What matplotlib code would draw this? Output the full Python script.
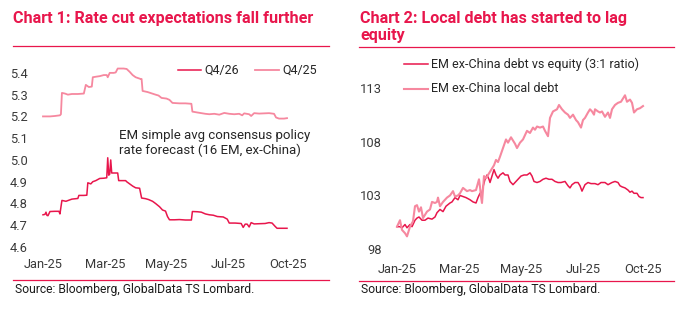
import matplotlib
matplotlib.use("Agg")
import matplotlib.pyplot as plt
from matplotlib.lines import Line2D

plt.rcParams['font.family'] = ['Roboto', 'DejaVu Sans']

RED = '#E8164C'
PINK = '#F6889F'
TXT = '#262626'

# ---------------- Chart 1 data (x = trading-day offset from start) ----------------
c1_q425_x = [0, 7, 12, 17, 18, 19, 22, 25, 29, 35, 41, 43, 46, 49, 50, 54, 57, 61, 64, 65,
             67, 71, 73, 75, 81, 84, 87, 90, 93, 98, 99, 100, 105, 109, 113, 116, 119, 124,
             127, 130, 137, 143, 149, 150, 155, 159, 163, 167, 172, 177, 182, 187, 192, 197,
             200, 202, 207, 209, 212, 217, 222, 227, 232, 234, 237, 242, 245]
c1_q425_y = [5.200, 5.200, 5.202, 5.205, 5.210, 5.308, 5.305, 5.300, 5.303, 5.303, 5.305,
             5.345, 5.335, 5.337, 5.380, 5.383, 5.385, 5.390, 5.390, 5.380, 5.400, 5.400,
             5.402, 5.420, 5.420, 5.418, 5.405, 5.390, 5.380, 5.372, 5.372, 5.317, 5.312,
             5.306, 5.300, 5.296, 5.285, 5.282, 5.276, 5.262, 5.260, 5.260, 5.258, 5.222,
             5.218, 5.215, 5.212, 5.210, 5.212, 5.208, 5.216, 5.212, 5.210, 5.212, 5.205,
             5.214, 5.210, 5.202, 5.215, 5.213, 5.214, 5.215, 5.212, 5.195, 5.190, 5.190,
             5.192]

c1_q426_x = [0, 2, 3, 4, 5, 7, 12, 16, 17, 19, 23, 26, 29, 33, 35, 36, 41, 44, 45, 48, 50,
             53, 57, 61, 64, 65, 66, 67, 68, 69, 75, 76, 83, 84, 87, 90, 93, 97, 99, 103,
             106, 110, 113, 117, 120, 123, 125, 127, 132, 137, 143, 149, 150, 155, 159, 163,
             167, 171, 175, 181, 185, 187, 193, 199, 201, 203, 205, 207, 209, 212, 217, 223,
             227, 230, 233, 235, 240, 245]
c1_q426_y = [4.748, 4.750, 4.760, 4.745, 4.744, 4.763, 4.764, 4.764, 4.752, 4.814, 4.810,
             4.815, 4.820, 4.822, 4.823, 4.837, 4.837, 4.838, 4.895, 4.890, 4.900, 4.905,
             4.915, 4.916, 4.918, 5.010, 4.930, 4.935, 5.000, 4.940, 4.940, 4.905, 4.905,
             4.900, 4.890, 4.880, 4.872, 4.870, 4.825, 4.822, 4.818, 4.810, 4.800, 4.785,
             4.770, 4.765, 4.740, 4.725, 4.725, 4.726, 4.724, 4.724, 4.763, 4.762, 4.760,
             4.752, 4.748, 4.746, 4.740, 4.738, 4.728, 4.710, 4.710, 4.708, 4.690, 4.705,
             4.705, 4.692, 4.712, 4.706, 4.707, 4.708, 4.712, 4.710, 4.695, 4.686, 4.686,
             4.686]

c1_yticks = [4.6, 4.7, 4.8, 4.9, 5.0, 5.1, 5.2, 5.3, 5.4]
month_ticks = [0, 62, 124, 186, 246]
month_labels = ['Jan-25', 'Mar-25', 'May-25', 'Jul-25', 'Oct-25']

# ---------------- Chart 2 data ----------------
c2_local_x = [0, 3, 5, 8, 10, 13, 16, 18, 20, 22, 24, 26, 28, 30, 33, 35, 38, 40, 41, 43,
              46, 50, 53, 56, 58, 61, 63, 66, 70, 73, 75, 79, 82, 83, 84, 85, 87, 89, 91,
              93, 95, 97, 99, 101, 103, 106, 109, 111, 114, 116, 118, 120, 123, 126, 128,
              130, 133, 136, 138, 140, 143, 146, 148, 151, 153, 156, 160, 162, 165, 168,
              171, 173, 176, 179, 181, 184, 186, 188, 191, 193, 195, 197, 198, 201, 203,
              205, 208, 211, 213, 215, 218, 221, 224, 226, 228, 230, 233, 235, 237, 240,
              243, 246]
c2_local_y = [100.1, 100.7, 99.8, 99.5, 99.2, 100.1, 100.6, 102.0, 102.1, 101.5, 101.9,
              100.9, 101.2, 101.5, 101.7, 102.4, 102.3, 102.4, 102.8, 102.0, 102.4, 102.8,
              103.0, 103.4, 102.9, 103.0, 103.2, 103.7, 103.4, 103.5, 103.4, 103.5, 104.5,
              103.8, 102.9, 102.3, 104.8, 104.6, 104.9, 105.2, 105.5, 105.8, 106.3, 106.1,
              106.6, 107.4, 108.2, 107.9, 108.4, 108.1, 107.8, 107.4, 107.9, 108.2, 108.6,
              109.0, 108.8, 109.3, 109.1, 109.4, 109.3, 109.4, 109.0, 108.5, 110.2, 110.8,
              111.0, 111.4, 111.0, 110.7, 110.5, 110.2, 110.5, 110.0, 109.8, 109.3, 110.0,
              110.2, 110.7, 111.0, 110.8, 110.5, 111.0, 110.8, 110.7, 110.8, 110.3, 110.7,
              110.2, 111.0, 111.4, 111.6, 111.7, 112.0, 112.3, 111.7, 111.9, 111.6, 110.7,
              111.0, 111.1, 111.3]

c2_ratio_x = [0, 3, 5, 8, 10, 13, 15, 18, 20, 22, 25, 28, 31, 35, 38, 40, 43, 46, 49, 53,
              55, 58, 61, 63, 66, 69, 73, 76, 79, 81, 83, 85, 86, 88, 90, 92, 93, 95, 97,
              99, 101, 103, 106, 108, 111, 113, 116, 118, 121, 124, 127, 130, 133, 135, 137,
              140, 143, 146, 149, 152, 155, 158, 161, 164, 168, 171, 173, 175, 178, 181,
              183, 185, 188, 191, 194, 198, 201, 204, 208, 211, 215, 218, 221, 223, 225,
              228, 231, 233, 235, 237, 240, 242, 244, 246]
c2_ratio_y = [100.1, 100.1, 100.0, 100.3, 100.0, 100.3, 100.1, 100.7, 100.9, 101.0, 100.7,
              100.7, 100.9, 100.8, 101.0, 101.4, 101.7, 101.5, 102.0, 102.3, 102.4, 102.8,
              102.6, 103.0, 102.9, 102.8, 102.6, 102.4, 102.3, 102.8, 103.2, 103.2, 103.8,
              104.5, 104.9, 104.5, 104.2, 104.8, 105.4, 104.9, 104.6, 104.9, 105.1, 104.9,
              104.9, 104.3, 104.0, 104.2, 104.5, 104.8, 104.9, 104.9, 105.1, 104.8, 104.3,
              104.2, 104.3, 104.5, 104.6, 104.5, 104.5, 104.3, 104.2, 104.2, 104.3, 103.9,
              103.7, 104.0, 104.2, 104.2, 103.9, 103.4, 104.0, 104.2, 104.1, 104.1, 104.0,
              104.2, 104.2, 104.0, 104.2, 104.3, 104.2, 103.9, 103.8, 103.7, 103.5, 103.3,
              103.4, 103.2, 103.2, 102.9, 102.8, 102.8]

c2_yticks = [98, 103, 108, 113]

# ---------------- Figure ----------------
W, H = 682, 327
fig = plt.figure(figsize=(W / 100, H / 100), dpi=100)


def fx(px):
    return px / W


def fy(py):
    return 1 - py / H


def style_axes(ax):
    for s in ax.spines.values():
        s.set_visible(False)
    ax.tick_params(length=0, labelsize=9.3, colors='#3a3a3a')
    ax.set_facecolor('none')


# Chart 1 axes
ax1 = fig.add_axes([fx(43), fy(247), fx(288) - fx(43), fy(62) - fy(247)])
ax1.plot(c1_q426_x, c1_q426_y, color=RED, lw=1.1, clip_on=False)
ax1.plot(c1_q425_x, c1_q425_y, color=PINK, lw=1.3, clip_on=False)
ax1.set_xlim(0, 245)
ax1.set_ylim(4.6, 5.45)
ax1.set_yticks(c1_yticks)
ax1.set_yticklabels([f'{v:.1f}' for v in c1_yticks])
ax1.set_xticks(month_ticks)
ax1.set_xticklabels(month_labels)
style_axes(ax1)
ax1.tick_params(axis='y', pad=11)
ax1.tick_params(axis='x', pad=8)
ax1.text(fx(119), fy(143), 'EM simple avg consensus policy\nrate forecast (16 EM, ex-China)',
         transform=fig.transFigure, fontsize=9.5, color=TXT, va='center', ha='left',
         linespacing=1.2)

# Chart 2 axes
ax2 = fig.add_axes([fx(397), fy(249.3), fx(643) - fx(397), fy(66.2) - fy(249.3)])
ax2.plot(c2_ratio_x, c2_ratio_y, color=RED, lw=1.1, clip_on=False)
ax2.plot(c2_local_x, c2_local_y, color=PINK, lw=1.5, clip_on=False)
ax2.set_xlim(0, 246)
ax2.set_ylim(98, 115)
ax2.set_yticks(c2_yticks)
ax2.set_xticks(month_ticks)
ax2.set_xticklabels(month_labels)
style_axes(ax2)
ax2.tick_params(axis='y', pad=11)
ax2.tick_params(axis='x', pad=10)

# Titles
fig.text(fx(13), fy(23), 'Chart 1: Rate cut expectations fall further', color=RED,
         fontsize=11.6, fontweight='bold', va='baseline', ha='left')
fig.text(fx(360), fy(23), 'Chart 2: Local debt has started to lag', color=RED,
         fontsize=11.6, fontweight='bold', va='baseline', ha='left')
fig.text(fx(360), fy(40), 'equity', color=RED,
         fontsize=11.6, fontweight='bold', va='baseline', ha='left')

# Separator lines
for (x0, x1, y) in [(13, 329, 46), (13, 329, 280), (359, 674, 47), (359, 674, 281)]:
    fig.add_artist(Line2D([fx(x0), fx(x1)], [fy(y), fy(y)], color=RED, lw=0.9,
                          transform=fig.transFigure))

# Sources
fig.text(fx(15), fy(289), 'Source: Bloomberg, GlobalData TS Lombard.', fontsize=8.7,
         color='#1a1a1a', va='center', ha='left')
fig.text(fx(361), fy(290), 'Source: Bloomberg, GlobalData TS Lombard.', fontsize=8.7,
         color='#1a1a1a', va='center', ha='left')

# Legends (manual)
legend_items = [
    (178, 201, 70, RED, 1.1, 'Q4/26'),
    (255, 279, 70, PINK, 1.3, 'Q4/25'),
    (404, 428, 64, RED, 1.1, 'EM ex-China debt vs equity (3:1 ratio)'),
    (404, 428, 89, PINK, 1.5, 'EM ex-China local debt'),
]
for x0, x1, y, c, lw, lab in legend_items:
    fig.add_artist(Line2D([fx(x0), fx(x1)], [fy(y), fy(y)], color=c, lw=lw,
                          transform=fig.transFigure))
    fig.text(fx(x1 + 3), fy(y), lab, fontsize=9, color=TXT, va='center', ha='left')

fig.savefig('out.png', dpi=100)
